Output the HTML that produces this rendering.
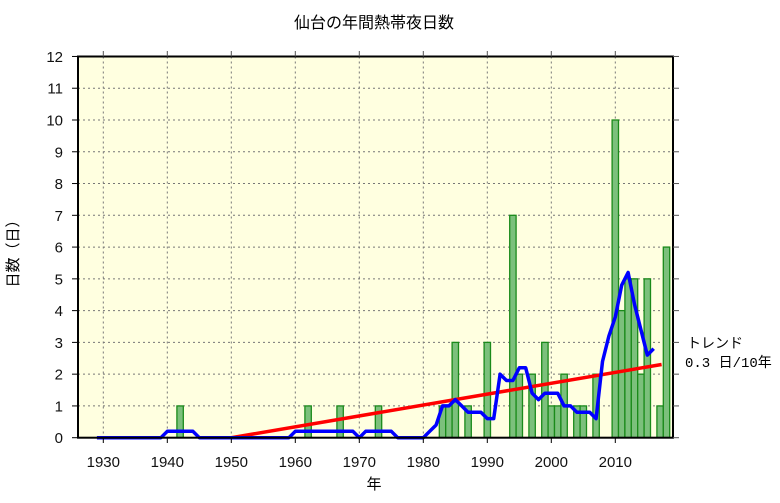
<!DOCTYPE html>
<html><head><meta charset="utf-8"><style>
body{margin:0;background:#fff}
svg text{font-family:"Liberation Sans","Noto Sans CJK JP",sans-serif}
</style></head><body>
<svg id="s" width="780" height="498" xmlns="http://www.w3.org/2000/svg">
<rect x="78" y="56.5" width="595" height="381.2" fill="#ffffe0"/>
<g id="grid"></g>
<g id="bars"></g>
<polyline points="231.3,437.7 661.6,364.5" stroke="#ff0000" stroke-width="3.5" fill="none"/>
<polyline id="ma" stroke="#0000ff" stroke-width="3.5" fill="none" stroke-linejoin="round"/>
<rect x="78" y="56.5" width="595" height="381.2" fill="none" stroke="#000" stroke-width="2"/>
<g id="lab" font-size="15" fill="#111"></g>
<text x="374" y="28" font-size="16" text-anchor="middle" style="font-family:'Noto Sans CJK JP',sans-serif">仙台の年間熱帯夜日数</text>
<text x="374" y="489" font-size="15" text-anchor="middle" style="font-family:'Noto Sans CJK JP',sans-serif">年</text>
<text transform="translate(18,250) rotate(-90)" font-size="15" text-anchor="middle" style="font-family:'Noto Sans CJK JP',sans-serif">日数（日）</text>
<text x="687" y="348" font-size="14" style="font-family:'Noto Sans CJK JP',sans-serif">トレンド</text>
<text x="685" y="367" font-size="14" style="font-family:'Liberation Mono','Noto Sans CJK JP',monospace">0.3 日/10年</text>
</svg>
<script>
var X=function(y){return 103.3+6.4*(y-1930)},Y=function(v){return 437.7-31.77*v};
var d={1942:1,1962:1,1967:1,1973:1,1983:1,1984:1,1985:3,1987:1,1990:3,1994:7,1995:2,1997:2,1999:3,2000:1,2001:1,2002:2,2004:1,2005:1,2007:2,2010:10,2011:4,2012:5,2013:5,2014:2,2015:5,2017:1,2018:6};
var ns="http://www.w3.org/2000/svg";
function el(p,t,a,txt){var e=document.createElementNS(ns,t);for(var k in a)e.setAttribute(k,a[k]);if(txt)e.textContent=txt;document.getElementById(p).appendChild(e);}
for(var v=1;v<12;v++)el("grid","line",{x1:78,x2:673,y1:Y(v),y2:Y(v),stroke:"#777","stroke-dasharray":"2,3","stroke-width":1});
for(var y=1930;y<=2010;y+=10)el("grid","line",{x1:X(y),x2:X(y),y1:56.5,y2:437.7,stroke:"#777","stroke-dasharray":"2,3","stroke-width":1});
for(var k in d)el("bars","rect",{x:X(+k)-3.2,y:Y(d[k]),width:6.4,height:31.77*d[k],fill:"#7cc07c",stroke:"#1a8a1a","stroke-width":1.3});
for(var v=0;v<=12;v++){el("lab","line",{x1:72,x2:78,y1:Y(v),y2:Y(v),stroke:"#000"});el("lab","line",{x1:673,x2:679,y1:Y(v),y2:Y(v),stroke:"#555"});el("lab","text",{x:63,y:Y(v)+5.5,"text-anchor":"end"},""+v);}
for(var y=1930;y<=2010;y+=10){el("lab","line",{x1:X(y),x2:X(y),y1:437.7,y2:443,stroke:"#000"});el("lab","line",{x1:X(y),x2:X(y),y1:51,y2:56.5,stroke:"#555"});el("lab","text",{x:X(y),y:467,"text-anchor":"middle"},""+y);}
var pts=[];for(var y=1929;y<=2016;y++){var s=0;for(var j=y-2;j<=y+2;j++)s+=d[j]||0;pts.push(X(y).toFixed(1)+","+Y(s/5).toFixed(1));}
document.getElementById("ma").setAttribute("points",pts.join(" "));
</script>
</body></html>
